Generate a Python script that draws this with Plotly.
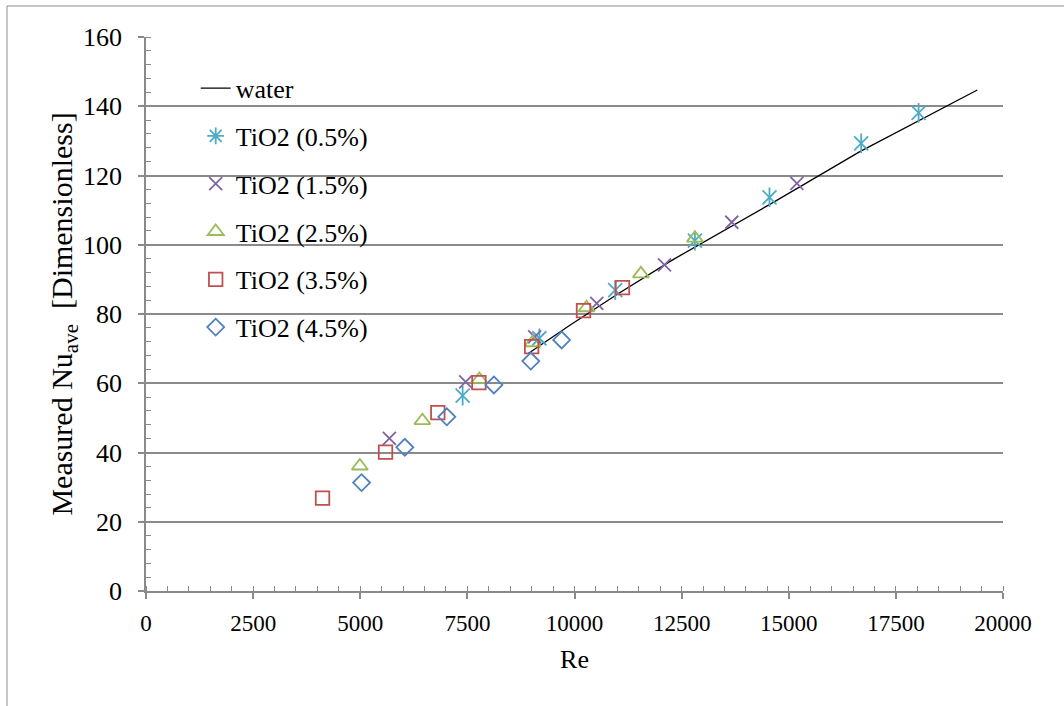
import plotly.graph_objects as go

# Reynolds number / measured average Nusselt number pairs
water_re = [8920, 9900, 11000, 12270, 14550, 16660, 19400]
water_nu = [68.6, 76.8, 85.7, 95.5, 111.6, 126.9, 144.7]

tio2_05_re = [7390, 9180, 10950, 12810, 14550, 16690, 18030]
tio2_05_nu = [56.4, 73.0, 86.9, 101.2, 113.7, 129.3, 138.1]

tio2_15_re = [5680, 7460, 9070, 10520, 12100, 13670, 15190]
tio2_15_nu = [44.1, 60.4, 73.4, 83.1, 94.2, 106.5, 117.7]

tio2_25_re = [4990, 6450, 7780, 9020, 10280, 11550, 12810]
tio2_25_nu = [36.1, 49.2, 61.1, 71.7, 81.8, 91.6, 101.9]

tio2_35_re = [4120, 5590, 6810, 7770, 9000, 10210, 11120]
tio2_35_nu = [26.8, 40.1, 51.5, 60.2, 70.6, 81.0, 87.6]

tio2_45_re = [5030, 6040, 7020, 8120, 8980, 9700]
tio2_45_nu = [31.3, 41.5, 50.3, 59.5, 66.4, 72.5]

FONT = "Liberation Serif, Times New Roman, serif"
GRID = "#8a8a8a"

fig = go.Figure()

fig.add_trace(go.Scatter(
    x=water_re, y=water_nu, mode="lines", name="water",
    line=dict(color="black", width=1.3), legendgroup="w",
))

# 0.5 %: six-armed star = thin X plus a vertical bar
teal = "#4BACC6"
fig.add_trace(go.Scatter(
    x=[None], y=[None], mode="markers", name="TiO2 (0.5%)", legendgroup="a",
    marker=dict(symbol="asterisk-open", size=14, color=teal,
                line=dict(color=teal, width=1.8)),
))
fig.add_trace(go.Scatter(
    x=tio2_05_re, y=tio2_05_nu, mode="markers", showlegend=False, legendgroup="a",
    marker=dict(symbol="x-thin-open", size=14, color=teal,
                line=dict(color=teal, width=1.8)),
))
fig.add_trace(go.Scatter(
    x=tio2_05_re, y=tio2_05_nu, mode="markers", showlegend=False, legendgroup="a",
    marker=dict(symbol="line-ns-open", size=14, color=teal,
                line=dict(color=teal, width=1.8)),
))

series = [
    ("TiO2 (1.5%)", tio2_15_re, tio2_15_nu, "x-thin-open", 13, "#8064A2", "b"),
    ("TiO2 (2.5%)", tio2_25_re, tio2_25_nu, "triangle-up-open", 14, "#9BBB59", "c"),
    ("TiO2 (3.5%)", tio2_35_re, tio2_35_nu, "square-open", 13.5, "#C0504D", "d"),
    ("TiO2 (4.5%)", tio2_45_re, tio2_45_nu, "diamond-open", 13, "#4F81BD", "e"),
]
for name, xs, ys, sym, size, color, grp in series:
    fig.add_trace(go.Scatter(
        x=xs, y=ys, mode="markers", name=name, legendgroup=grp,
        marker=dict(symbol=sym, size=size, color=color,
                    line=dict(color=color, width=1.8)),
    ))

# outer chart frame: only its left and top edges fall inside the page
frame = dict(color="#8c8c8c", width=1)
fig.update_layout(
    width=1064, height=706,
    margin=dict(l=146, r=61, t=37, b=115),
    paper_bgcolor="white", plot_bgcolor="white",
    font=dict(family=FONT, size=24, color="black"),
    showlegend=True,
    legend=dict(
        x=0.058, y=0.95, xanchor="left", yanchor="top",
        bgcolor="rgba(0,0,0,0)", borderwidth=0,
        font=dict(family=FONT, size=26, color="black"),
        tracegroupgap=11, traceorder="grouped",
    ),
    shapes=[
        dict(type="line", xref="paper", yref="paper",
             x0=-0.1622, x1=-0.1622, y0=-0.4, y1=1.056, line=frame, layer="below"),
        dict(type="line", xref="paper", yref="paper",
             x0=-0.1622, x1=1.3, y0=1.056, y1=1.056, line=frame, layer="below"),
    ],
)

fig.update_xaxes(
    range=[0, 20000], dtick=2500, tick0=0, tickformat="d",
    showgrid=False, zeroline=False,
    showline=True, linecolor=GRID, linewidth=1.5,
    ticks="outside", ticklen=6, tickcolor=GRID, tickwidth=1.5,
    minor=dict(dtick=500, ticks="inside", ticklen=5, tickcolor=GRID, tickwidth=1),
    tickfont=dict(family=FONT, size=23, color="black"),
    ticklabelstandoff=5,
    title=dict(text="Re", font=dict(family=FONT, size=26, color="black"), standoff=14),
)
fig.update_yaxes(
    range=[0, 160], dtick=20, tick0=0,
    showgrid=True, gridcolor=GRID, gridwidth=1.5, zeroline=False,
    showline=True, linecolor=GRID, linewidth=1.5,
    ticks="outside", ticklen=6, tickcolor=GRID, tickwidth=1.5,
    minor=dict(dtick=4, ticks="inside", ticklen=5, tickcolor=GRID, tickwidth=1),
    tickfont=dict(family=FONT, size=26, color="black"),
    ticklabelstandoff=11,
    title=dict(text="Measured Nu<sub>ave</sub>  [Dimensionless]",
               font=dict(family=FONT, size=30, color="black"), standoff=0),
)

fig.write_html("out.html")
